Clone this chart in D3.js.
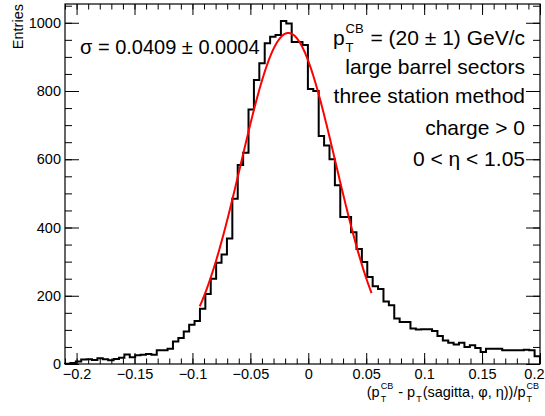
<!DOCTYPE html>
<meta charset="utf-8">
<style>
  body { margin: 0; background: #fff; }
  text { font-family: "Liberation Sans", Arial, Helvetica, sans-serif; fill: #000; }
</style>
<body>
<div id="chart"></div>
<script src="https://d3js.org/d3.v7.min.js"></script>
<script>
// histogram: equal-width bins between xLo and xHi
var xLo = -0.21, xHi = 0.2;
var binCounts = [
  1, 3, 7, 13, 14, 12, 17, 14, 11, 15,
  18, 28, 20, 26, 27, 29, 27, 40, 40, 45,
  66, 76, 95, 115, 126, 162, 205, 250, 297, 321,
  368, 484, 583, 619, 746, 832, 881, 940, 959, 964,
  1005, 998, 944, 944, 935, 806, 800, 668, 640, 600,
  524, 431, 431, 386, 337, 299, 255, 228, 220, 183,
  172, 133, 123, 123, 104, 101, 102, 102, 97, 82,
  69, 62, 57, 62, 50, 55, 47, 35, 45, 45,
  45, 40, 40, 40, 40, 42, 40, 23
];

// gaussian fit
var fitConst = 970, fitMean = -0.0172, fitSigma = 0.0409;
var fitRange = [-0.0937, 0.0546];

var yMax = 1055;
var xTickValues = [-0.2, -0.15, -0.1, -0.05, 0, 0.05, 0.1, 0.15, 0.2];
var xTickLabels = ["\u22120.2", "\u22120.15", "\u22120.1", "\u22120.05", "0", "0.05", "0.1", "0.15", "0.2"];
var yTickValues = [0, 200, 400, 600, 800, 1000];
var yTickLabels = ["0", "200", "400", "600", "800", "1000"];

var W = 545, H = 416;
var margin = {top: 4, right: 5, bottom: 52, left: 65};
var width = W - margin.left - margin.right;
var height = H - margin.top - margin.bottom;

var svg = d3.select("#chart").append("svg")
  .attr("width", W)
  .attr("height", H);

var g = svg.append("g")
  .attr("transform", "translate(" + margin.left + "," + margin.top + ")");

var x = d3.scaleLinear().domain([xLo, xHi]).range([0, width]);
var y = d3.scaleLinear().domain([0, yMax]).range([height, 0]);

var binW = (xHi - xLo) / binCounts.length;

// minor tick values
var xMinor = d3.range(-21, 21).map(function (i) { return i / 100; })
  .filter(function (v) { return v >= xLo - 1e-9 && v <= xHi + 1e-9; });
var yMinor = d3.range(0, yMax + 1, 50);

function noDomain(sel) { sel.select(".domain").remove(); }

// x axis bottom
g.append("g")
  .attr("transform", "translate(0," + height + ")")
  .call(d3.axisBottom(x).tickValues(xMinor).tickFormat("").tickSize(-5.5))
  .call(noDomain);
var xAxisG = g.append("g")
  .attr("class", "xaxis")
  .attr("transform", "translate(0," + height + ")")
  .call(d3.axisBottom(x).tickValues(xTickValues)
    .tickFormat(function (d, i) { return xTickLabels[i]; })
    .tickSize(-11).tickPadding(5))
  .call(noDomain);
// last label sits at the window edge: keep it inside
xAxisG.selectAll(".tick text")
  .filter(function (d) { return d === xHi; })
  .attr("text-anchor", "end")
  .attr("x", W - margin.left - width - 1);

// x axis top (mirror)
g.append("g")
  .call(d3.axisTop(x).tickValues(xMinor).tickFormat("").tickSize(-5.5))
  .call(noDomain);
g.append("g")
  .call(d3.axisTop(x).tickValues(xTickValues).tickFormat("").tickSize(-11))
  .call(noDomain);

// y axis left
g.append("g")
  .call(d3.axisLeft(y).tickValues(yMinor).tickFormat("").tickSize(-7))
  .call(noDomain);
g.append("g")
  .attr("class", "yaxis")
  .call(d3.axisLeft(y).tickValues(yTickValues)
    .tickFormat(function (d, i) { return yTickLabels[i]; })
    .tickSize(-14).tickPadding(4))
  .call(noDomain);

// y axis right (mirror)
g.append("g")
  .attr("transform", "translate(" + width + ",0)")
  .call(d3.axisRight(y).tickValues(yMinor).tickFormat("").tickSize(-7))
  .call(noDomain);
g.append("g")
  .attr("transform", "translate(" + width + ",0)")
  .call(d3.axisRight(y).tickValues(yTickValues).tickFormat("").tickSize(-14))
  .call(noDomain);

g.selectAll(".tick line").attr("stroke", "#000").attr("stroke-width", 1);
g.selectAll(".xaxis text, .yaxis text")
  .style("font-size", "14.5px")
  .style("font-family", "'Liberation Sans', Arial, sans-serif");

// histogram outline
var pts = [[xLo, 0]];
binCounts.forEach(function (c, i) {
  pts.push([xLo + i * binW, c]);
  pts.push([xLo + (i + 1) * binW, c]);
});
pts.push([xHi, 0]);

g.append("path")
  .datum(pts)
  .attr("fill", "none")
  .attr("stroke", "#000")
  .attr("stroke-width", 2)
  .attr("d", d3.line().x(function (d) { return x(d[0]); }).y(function (d) { return y(d[1]); }));

// fit curve
var fitPts = d3.range(0, 201).map(function (i) {
  var v = fitRange[0] + (fitRange[1] - fitRange[0]) * i / 200;
  var z = (v - fitMean) / fitSigma;
  return [v, fitConst * Math.exp(-0.5 * z * z)];
});
g.append("path")
  .datum(fitPts)
  .attr("fill", "none")
  .attr("stroke", "#ff0000")
  .attr("stroke-width", 2)
  .attr("d", d3.line().x(function (d) { return x(d[0]); }).y(function (d) { return y(d[1]); }));

// frame
g.append("rect")
  .attr("width", width)
  .attr("height", height)
  .attr("fill", "none")
  .attr("stroke", "#000")
  .attr("stroke-width", 1.2);

// text with sub/superscripts, laid out left to right
function richText(parent, segs, px, py, size, anchor) {
  var tg = parent.append("g");
  var cx = 0;
  var sm = size * 0.62;
  segs.forEach(function (s) {
    if (s.t !== undefined) {
      var t = tg.append("text").attr("x", cx).attr("y", 0)
        .style("font-size", size + "px").style("white-space", "pre").text(s.t);
      cx += t.node().getComputedTextLength();
    } else {
      var w = 0;
      if (s.sup) {
        var a = tg.append("text").attr("x", cx + 1).attr("y", -size * 0.55)
          .style("font-size", sm + "px").text(s.sup);
        w = Math.max(w, a.node().getComputedTextLength());
      }
      if (s.sub) {
        var b = tg.append("text").attr("x", cx + 1).attr("y", size * 0.35)
          .style("font-size", sm + "px").text(s.sub);
        w = Math.max(w, b.node().getComputedTextLength());
      }
      cx += w + 2;
    }
  });
  var x0 = anchor === "end" ? px - cx : px;
  tg.attr("transform", "translate(" + x0 + "," + py + ")");
}

// y title
svg.append("text")
  .attr("transform", "translate(23,4) rotate(-90)")
  .attr("text-anchor", "end")
  .style("font-size", "14.5px")
  .text("Entries");

// x title
richText(svg, [
  {t: "(p"}, {sup: "CB", sub: "T"}, {t: " - p"}, {sub: "T"},
  {t: "(sagitta, \u03c6, \u03b7))/p"}, {sup: "CB", sub: "T"}
], 540, 397, 14.5, "end");

// fit result
svg.append("text")
  .attr("x", 80).attr("y", 54)
  .style("font-size", "20px")
  .style("white-space", "pre")
  .text("\u03c3 = 0.0409 \u00b1 0.0004");

// info lines on the right
var infoSize = 21;
richText(svg, [{t: "p"}, {sup: "CB", sub: "T"}, {t: " = (20 \u00b1 1) GeV/c"}], 525, 45, infoSize, "end");
var infoLines = ["large barrel sectors", "three station method", "charge > 0", "0 < \u03b7 < 1.05"];
var infoBase = [74, 103, 135, 166];
infoLines.forEach(function (s, i) {
  svg.append("text")
    .attr("x", 525).attr("y", infoBase[i])
    .attr("text-anchor", "end")
    .style("font-size", infoSize + "px")
    .text(s);
});
</script>
</body>
